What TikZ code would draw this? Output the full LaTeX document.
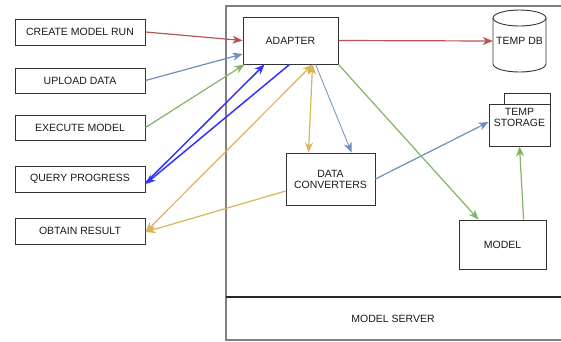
\documentclass[tikz,border=0pt]{standalone}
\usepackage{fontspec}
\setmainfont{Liberation Sans}
\usetikzlibrary{arrows.meta}
\definecolor{cred}{HTML}{B85450}
\definecolor{cblue}{HTML}{6C8EBF}
\definecolor{cgreen}{HTML}{82B366}
\definecolor{cgold}{HTML}{D6B656}
\definecolor{cdeep}{HTML}{3333FF}
\definecolor{cline}{HTML}{333333}
\begin{document}
\begin{tikzpicture}[x=1pt,y=-1pt,
  every node/.style={font=\fontsize{10.5}{12}\selectfont, text=black!90},
  box/.style={draw=cline, line width=0.9pt, rectangle, inner sep=0pt, align=center},
  client/.style={box, minimum width=130pt, minimum height=26pt},
  tip/.style={Stealth[length=10pt,width=8pt,inset=3pt]},
  conn/.style={line width=1.2pt, -{Stealth[length=10pt,width=8pt,inset=3pt]}},
  both/.style={line width=1.2pt, {Stealth[length=10pt,width=8pt,inset=3pt]}-{Stealth[length=10pt,width=8pt,inset=3pt]}},
]
\useasboundingbox (0,0) rectangle (561,341);

% model server frame
\node[draw=black!50, line width=1.1pt, minimum width=336pt, minimum height=334pt, inner sep=0pt] (server) at (394,173) {};
\draw[line width=1.2pt, black!85] (226,297) -- (562,297);
\node (serverlabel) at (393,318.5) {MODEL SERVER};

% client operations
\node[client] (create)  at (80,32)    {CREATE MODEL RUN};
\node[client, minimum height=25pt] (upload)  at (80,80.5)  {UPLOAD DATA};
\node[client, minimum height=25pt] (execute) at (80,127.5) {EXECUTE MODEL};
\node[client] (query)   at (80,179)   {QUERY PROGRESS};
\node[client] (obtain)  at (80,231)   {OBTAIN RESULT};

% server components
\node[box, minimum width=95pt, minimum height=47pt] (adapter) at (290.5,40.5) {ADAPTER};
\node[box, minimum width=89pt, minimum height=52pt] (dc) at (330.5,179) {DATA\\[-1pt]CONVERTERS};
\node[box, minimum width=87pt, minimum height=49pt] (model) at (502.5,244.5) {MODEL};

% temp db cylinder
\draw[cline, line width=0.9pt, fill=white]
  (493,18) -- (493,64) arc[start angle=180, end angle=360, x radius=26.5pt, y radius=8pt]
  -- (546,18) arc[start angle=0, end angle=180, x radius=26.5pt, y radius=8pt] -- cycle;
\draw[cline, line width=0.9pt] (493,18) arc[start angle=180, end angle=360, x radius=26.5pt, y radius=8pt];
\node[minimum width=53pt, minimum height=62pt, inner sep=0pt] (tempdb) at (519.5,41) {TEMP DB};

% temp storage folder
\draw[cline, line width=0.9pt] (504,104) rectangle (550,93);
\node[box, minimum width=61pt, minimum height=42pt] (storage) at (519.5,125) {};
\node[align=center, inner sep=0pt] (storagetext) at (519.5,117.5) {TEMP\\[-1pt]STORAGE};

% connectors
\draw[conn, cred] (create.east) -- (adapter.west);
\draw[conn, cred] (adapter.east) -- (tempdb.west);
\draw[conn, cblue] (upload.east) -- ([yshift=-13.5pt]adapter.west);
\draw[conn, cgreen] (execute.east) -- ([xshift=2pt]adapter.south west);
\draw[conn, cdeep, line width=1.5pt] ([yshift=-4pt]query.east) -- ([xshift=22pt]adapter.south west);
\draw[conn, cdeep, line width=1.5pt] ([xshift=47pt]adapter.south west) -- ([yshift=-5pt]query.east);
\draw[both, cgold] ([xshift=70pt]adapter.south west) -- ([yshift=-1pt]obtain.east);
\draw[both, cgold] ([xshift=70pt]adapter.south west) -- ([xshift=23pt]dc.north west);
\draw[conn, cgold] ([yshift=-12pt]dc.west) -- ([yshift=-1pt]obtain.east);
\draw[conn, cblue, line width=0.8pt] ([xshift=73pt]adapter.south west) -- ([xshift=66pt]dc.north west);
\draw[conn, cblue] (dc.east) -- ([yshift=3pt]storage.west);
\draw[conn, cgreen] (adapter.south east) -- ([xshift=20pt]model.north west);
\draw[conn, cgreen] ([xshift=65pt]model.north west) -- ([xshift=31pt]storage.south west);
\end{tikzpicture}
\end{document}
